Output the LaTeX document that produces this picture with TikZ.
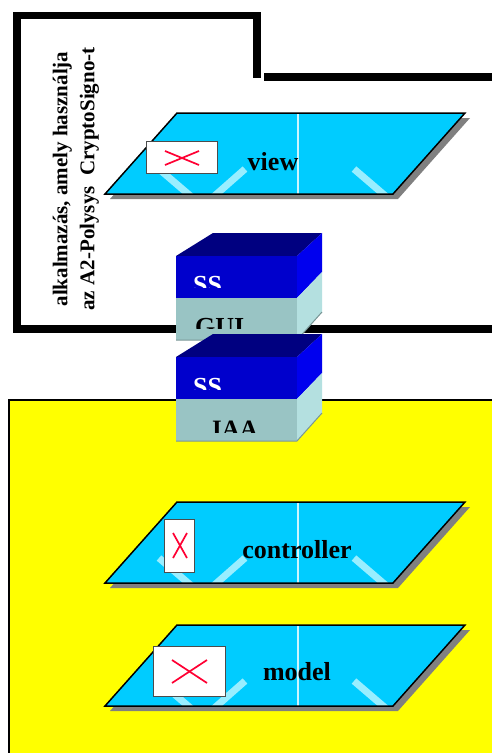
\documentclass[tikz,border=0pt]{standalone}
\usepackage{fontspec}
\setmainfont{Liberation Serif}
\definecolor{planecyan}{RGB}{0,204,255}
\definecolor{stripecol}{RGB}{153,238,255}
\definecolor{shadowgray}{RGB}{128,128,128}
\definecolor{dividercol}{RGB}{204,245,255}
\definecolor{xred}{RGB}{255,0,51}
\definecolor{topnavy}{RGB}{0,0,128}
\definecolor{ssfront}{RGB}{0,0,204}
\definecolor{ssside}{RGB}{0,0,238}
\definecolor{guifront}{RGB}{153,196,196}
\definecolor{guiside}{RGB}{180,224,224}
\definecolor{guishade}{RGB}{120,150,150}
\definecolor{bgyellow}{RGB}{255,255,0}
\newcommand\drawplane[1]{%
\begin{scope}[shift={(0,#1)}]
  \fill[shadowgray] (182,118) -- (470,118) -- (398,199) -- (110,199) -- cycle;
  \begin{scope}
    \clip (177,113) -- (465,113) -- (393,194) -- (105,194) -- cycle;
    \fill[planecyan] (100,110) rectangle (470,200);
    \draw[stripeline] (159,169) -- (194,199);
    \draw[stripeline] (245,169) -- (211,199);
    \draw[stripeline] (354,169) -- (389,199);
    \draw[dividerline] (298,110) -- (298,200);
  \end{scope}
  \draw[planeborder] (177,113) -- (465,113) -- (393,194) -- (105,194) -- cycle;
\end{scope}}
\newcommand\drawstack[1]{%
\begin{scope}[shift={(0,#1)}]
  \fill[topnavy] (176,256) -- (213,233) -- (322,233) -- (297,256) -- cycle;
  \fill[ssfront] (176,256) rectangle (297,298);
  \fill[ssside] (297,256) -- (322,233) -- (322,272) -- (297,298) -- cycle;
  \fill[guifront] (176,298) rectangle (297,340);
  \fill[guiside] (297,298) -- (322,272) -- (322,312) -- (297,340) -- cycle;
  \draw[guishade, line width=1pt] (176,340) -- (297,340) -- (322,312);
\end{scope}}
\begin{document}
\begin{tikzpicture}[x=1pt,y=-1pt,
  stripeline/.style={stripecol, line width=7pt, line cap=butt},
  dividerline/.style={dividercol, line width=1.3pt},
  planeborder/.style={draw=black, line width=1.5pt, line join=miter},
  framebar/.style={draw=black, line width=7.5pt, line join=miter, line cap=butt},
  xbox/.style={draw=black!70, fill=white, line width=0.8pt},
  xcross/.style={xred, line width=1.7pt},
  lbl/.style={font=\bfseries\fontsize{26}{26}\selectfont, inner sep=0pt},
  sstext/.style={text=white, font=\bfseries\fontsize{26}{26}\selectfont, inner sep=0pt, anchor=base west},
  guitext/.style={text=black, font=\bfseries\fontsize{26}{26}\selectfont, inner sep=0pt, anchor=base west}]
\useasboundingbox (0,0) rectangle (491,753);
\fill[white] (0,0) rectangle (491,753);
% frame
\draw[framebar] (495,329) -- (17,329) -- (17,15.5) -- (257,15.5) -- (257,78);
\draw[framebar] (264,77) -- (495,77);
% vertical text
\node[rotate=90, align=center, inner sep=0pt, font=\bfseries\fontsize{21}{27}\selectfont] (apptext) at (76,179)
  {alkalmazás, amely használja\\az A2-Polysys\ \ CryptoSigno-t};
% yellow area
\fill[bgyellow] (9,400) rectangle (495,760);
\draw[black, line width=2pt] (9,760) -- (9,400) -- (495,400);
% planes
\drawplane{0}
\drawplane{389}
\drawplane{512}
% view
\node[xbox, minimum width=71pt, minimum height=32pt, inner sep=0pt] (viewbox) at (181.5,157) {};
\draw[xcross] (165,151) -- (199,165);
\draw[xcross] (165,165) -- (199,151);
\node[lbl] (viewlbl) at (273,162) {view};
% controller
\node[xbox, minimum width=30pt, minimum height=53pt, inner sep=0pt] (ctrlbox) at (179,545.5) {};
\draw[xcross] (173,533) -- (187,558);
\draw[xcross] (173,558) -- (187,533);
\node[lbl] (ctrllbl) at (297,550) {controller};
% model
\node[xbox, minimum width=72pt, minimum height=50pt, inner sep=0pt] (modelbox) at (189,671) {};
\draw[xcross] (172,660) -- (207,683);
\draw[xcross] (172,683) -- (207,660);
\node[lbl] (modellbl) at (297,672) {model};
% stacks
\drawstack{0}
\begin{scope}
  \clip (176,256) rectangle (297,287);
  \node[sstext] (ss1) at (193,293) {SS};
\end{scope}
\begin{scope}
  \clip (176,298) rectangle (297,328);
  \node[guitext] (gui) at (195,335) {GUI};
\end{scope}
\drawstack{101}
\begin{scope}
  \clip (176,357) rectangle (297,389);
  \node[sstext] (ss2) at (193,395) {SS};
\end{scope}
\begin{scope}
  \clip (176,399) rectangle (297,432);
  \node[guitext, font=\bfseries\fontsize{25}{25}\selectfont] (iaa) at (212,437) {IAA};
\end{scope}
\end{tikzpicture}
\end{document}
